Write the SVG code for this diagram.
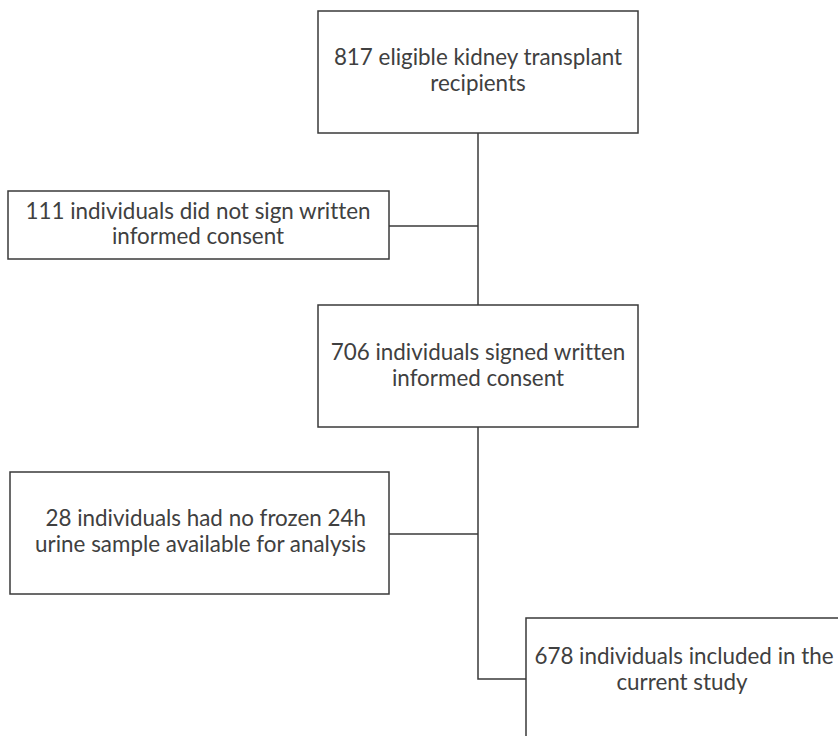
<svg xmlns="http://www.w3.org/2000/svg" width="838" height="736" viewBox="0 0 838 736">
<style>
.box{fill:#ffffff;stroke:#3a3a3a;stroke-width:1.5}
.lbl{font-family:Lato,"Liberation Sans",sans-serif;font-size:22.4px;fill:#404040;text-anchor:middle;font-variant-ligatures:none}
.con{fill:none;stroke:#3a3a3a;stroke-width:1.5}
</style>
<rect width="838" height="736" fill="#ffffff"/>
<g id="connectors">
<path class="con" d="M478,133 V305"/>
<path class="con" d="M389,226 H478"/>
<path class="con" d="M478,427 V679 H526"/>
<path class="con" d="M389,534 H478"/>
</g>
<g id="n817">
<rect class="box" x="318" y="11" width="320" height="122"/>
<text class="lbl" x="478" y="65">817 eligible kidney transplant</text>
<text class="lbl" x="478" y="91">recipients</text>
</g>
<g id="n111">
<rect class="box" x="8" y="191" width="381" height="68"/>
<text class="lbl" x="198" y="219">111 individuals did not sign written</text>
<text class="lbl" x="198" y="244">informed consent</text>
</g>
<g id="n706">
<rect class="box" x="318" y="305" width="320" height="122"/>
<text class="lbl" x="478" y="360">706 individuals signed written</text>
<text class="lbl" x="478" y="386">informed consent</text>
</g>
<g id="n28">
<rect class="box" x="10" y="472" width="379" height="122"/>
<text class="lbl" x="366" y="526" style="text-anchor:end">28 individuals had no frozen 24h</text>
<text class="lbl" x="366" y="552" style="text-anchor:end">urine sample available for analysis</text>
</g>
<g id="n678">
<rect class="box" x="526" y="618" width="330" height="140"/>
<text class="lbl" x="684" y="664">678 individuals included in the</text>
<text class="lbl" x="682" y="690">current study</text>
</g>
</svg>
